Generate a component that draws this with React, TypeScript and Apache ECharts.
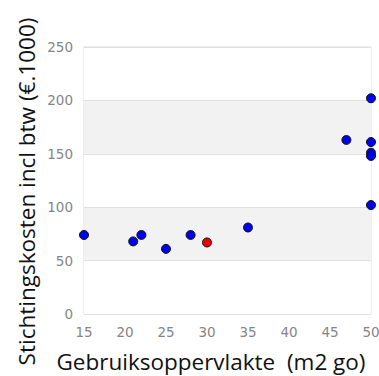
import React, { useEffect, useRef } from "react";
import * as echarts from "echarts";

const blueX = [15, 21, 22, 25, 28, 35, 47, 50, 50, 50, 50, 50];
const blueY = [74, 68, 74, 61, 74, 81, 163, 202, 161, 151, 148, 102];
const redX = [30];
const redY = [67];
const xTitle = "Gebruiksoppervlakte  (m2 go)";
const yTitle = "Stichtingskosten incl btw (€.1000)";

export default function App() {
  const ref = useRef<HTMLDivElement>(null);
  useEffect(() => {
    const chart = echarts.init(ref.current!, null, { renderer: "svg" });
    const tickLabel = { color: "#858585", fontSize: 13.5, fontFamily: "DejaVu Sans" };
    const titleStyle = { fontSize: 22.5, fill: "#111", fontFamily: "Open Sans", align: "center", verticalAlign: "middle" };
    chart.setOption({
      animation: false,
      grid: {
        left: 84, right: 8, top: 47, bottom: 62,
        show: true, borderColor: "#dddddd", borderWidth: 1,
        outerBoundsMode: "none", containLabel: false,
      },
      graphic: [
        { type: "text", x: 211, y: 361, style: { ...titleStyle, text: xTitle } },
        { type: "text", x: 26, y: 191.5, rotation: Math.PI / 2, style: { ...titleStyle, text: yTitle } },
      ],
      xAxis: {
        type: "value",
        min: 15,
        max: 50,
        interval: 5,
        axisLine: { show: false },
        axisTick: { show: false },
        axisLabel: { ...tickLabel, margin: 11 },
        splitLine: { show: false },
      },
      yAxis: {
        type: "value",
        min: 0,
        max: 250,
        interval: 50,
        axisLine: { show: false },
        axisTick: { show: false },
        axisLabel: { ...tickLabel, margin: 11 },
        splitLine: { show: true, lineStyle: { color: "#e0e0e0" } },
        splitArea: { show: true, areaStyle: { color: ["#ffffff", "#f2f2f2"] } },
      },
      series: [
        {
          type: "scatter",
          data: blueX.map((x, i) => [x, blueY[i]]),
          symbolSize: 9,
          itemStyle: { color: "#0000ee", borderColor: "#111", borderWidth: 1, opacity: 1 },
          clip: false,
        },
        {
          type: "scatter",
          data: redX.map((x, i) => [x, redY[i]]),
          symbolSize: 9,
          itemStyle: { color: "#ee0000", borderColor: "#111", borderWidth: 1, opacity: 1 },
          clip: false,
        },
      ],
    });
    return () => chart.dispose();
  }, []);
  return <div ref={ref} style={{ width: 379, height: 376, position: "absolute", left: 0, top: 0 }} />;
}
